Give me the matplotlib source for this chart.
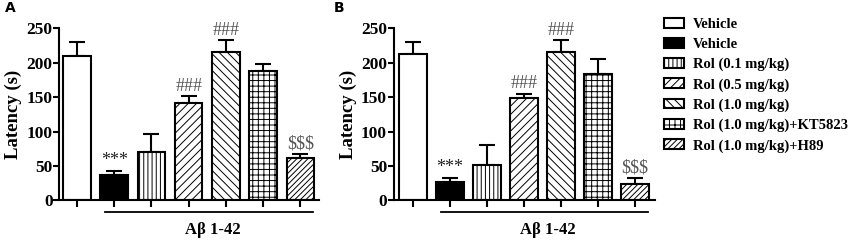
import matplotlib
matplotlib.use('Agg')
import matplotlib.pyplot as plt
from matplotlib.transforms import blended_transform_factory

plt.rcParams['font.family'] = ['Liberation Serif', 'DejaVu Serif']
plt.rcParams['hatch.linewidth'] = 0.7

# データ
groups = ['Vehicle', 'Vehicle', 'Rol (0.1 mg/kg)', 'Rol (0.5 mg/kg)', 'Rol (1.0 mg/kg)',
          'Rol (1.0 mg/kg)+KT5823', 'Rol (1.0 mg/kg)+H89']
mean_a = [210, 37, 71, 141, 215, 187, 61]
sem_a = [20, 6, 26, 10, 17, 11, 7]
mean_b = [213, 27, 52, 148, 215, 184, 24]
sem_b = [17, 6, 29, 7, 17, 21, 9]
marks_a = ['', '***', '', '###', '###', '', '$$$']
marks_b = ['', '***', '', '###', '###', '', '$$$']

face_colors = ['white', 'black', 'white', 'white', 'white', 'white', 'white']
hatches = ['', '', '||||', '////', '\\\\\\\\', '+++', '//////']

fig = plt.figure(figsize=(8.51, 2.4), dpi=100)
ax_a = fig.add_axes([0.0699, 0.1646, 0.305, 0.7187])
ax_b = fig.add_axes([0.463, 0.1646, 0.3067, 0.7187])


def draw_panel(ax, means, sems, marks, letter, letter_x, xlim):
    x = list(range(len(means)))
    bars = ax.bar(x, means, width=0.74, color=face_colors, edgecolor='black',
                  linewidth=1.5, zorder=2)
    for b, h in zip(bars, hatches):
        b.set_hatch(h)
    ax.errorbar(x, means, yerr=[[0] * len(sems), sems], fmt='none', ecolor='black',
                elinewidth=1.5, capsize=5.5, capthick=1.5, zorder=1)
    for xi, m, s, t in zip(x, means, sems, marks):
        if t:
            col = '#222222' if t == '***' else '#555555'
            ax.annotate(t, (xi, m + s), xytext=(0, 1), textcoords='offset points',
                        ha='center', va='bottom', fontsize=13, color=col,
                        annotation_clip=False)
    ax.set_ylim(0, 250)
    ax.set_xlim(*xlim)
    ax.set_yticks([0, 50, 100, 150, 200, 250])
    ax.set_xticks(x)
    ax.set_xticklabels([])
    ax.tick_params(axis='y', labelsize=12.5, width=1.5, length=4, direction='out', pad=1)
    ax.tick_params(axis='x', width=1.5, length=5, direction='out')
    for lab in ax.get_yticklabels():
        lab.set_fontweight('bold')
    ax.spines['top'].set_visible(False)
    ax.spines['right'].set_visible(False)
    ax.spines['left'].set_linewidth(1.5)
    ax.spines['bottom'].set_linewidth(1.5)
    ax.set_ylabel('Latency (s)', fontsize=13.5, fontweight='bold', labelpad=3)

    tr = blended_transform_factory(ax.transData, ax.transAxes)
    ax.plot([0.75, 6.35], [-0.067, -0.067], color='black', lw=1.3, transform=tr, clip_on=False)
    ax.text(3.65, -0.171, 'Aβ 1-42', transform=tr, ha='center', va='center',
            fontsize=12, fontweight='bold')
    fig.text(letter_x, 0.965, letter, fontsize=10, fontweight='bold',
             family='DejaVu Sans', ha='left', va='center')
    return bars


bars = draw_panel(ax_a, mean_a, sem_a, marks_a, 'A', 0.006, (-0.47, 6.5))
draw_panel(ax_b, mean_b, sem_b, marks_b, 'B', 0.392, (-0.51, 6.54))

leg = fig.legend(bars, groups, loc='upper left', bbox_to_anchor=(0.780, 0.925),
                 frameon=False, fontsize=10.5, handlelength=1.4, handleheight=0.65,
                 labelspacing=0.47, handletextpad=0.6, borderpad=0, borderaxespad=0)
for t in leg.get_texts():
    t.set_fontweight('bold')

plt.savefig('out.png', dpi=100)
plt.close(fig)
